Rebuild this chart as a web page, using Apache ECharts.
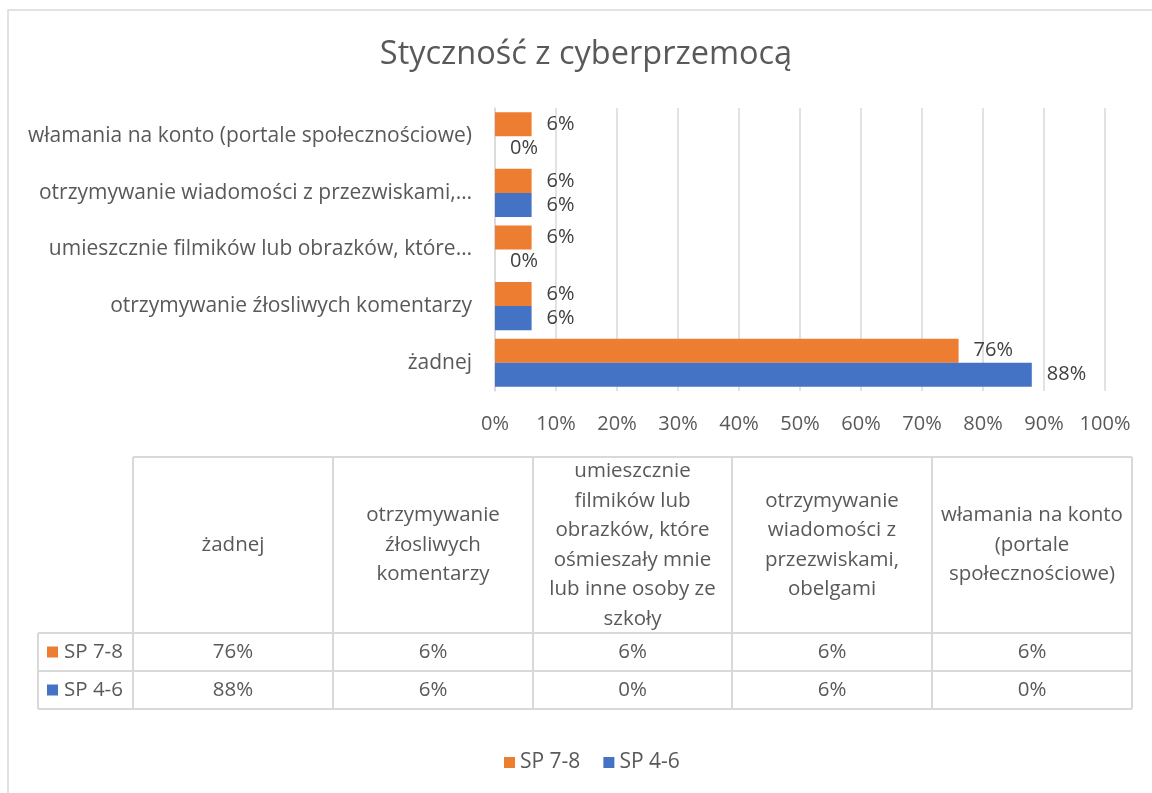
<!DOCTYPE html>
<html>
<head>
<meta charset="utf-8">
<script src="https://cdn.jsdelivr.net/npm/echarts@6/dist/echarts.min.js"></script>
<style>html,body{margin:0;padding:0;background:#fff}#c{width:1152px;height:793px}</style>
</head>
<body>
<div id="c"></div>
<script>
// ---- data ----
const titleText = 'Styczność z cyberprzemocą';
const categories = [
  'żadnej',
  'otrzymywanie źłosliwych komentarzy',
  'umieszcznie filmików lub obrazków, które ośmieszały mnie lub inne osoby ze szkoły',
  'otrzymywanie wiadomości z przezwiskami, obelgami',
  'włamania na konto (portale społecznościowe)'
];
const axisLabels = [
  'żadnej',
  'otrzymywanie źłosliwych komentarzy',
  'umieszcznie filmików lub obrazków, które…',
  'otrzymywanie wiadomości z przezwiskami,…',
  'włamania na konto (portale społecznościowe)'
];
const tableHeaders = [
  'żadnej',
  'otrzymywanie\nźłosliwych\nkomentarzy',
  'umieszcznie\nfilmików lub\nobrazków, które\nośmieszały mnie\nlub inne osoby ze\nszkoły',
  'otrzymywanie\nwiadomości z\nprzezwiskami,\nobelgami',
  'włamania na konto\n(portale\nspołecznościowe)'
];
const seriesNames = ['SP 7-8', 'SP 4-6'];
const sp78 = [76, 6, 6, 6, 6];
const sp46 = [88, 6, 0, 6, 0];
const xTicks = [0, 10, 20, 30, 40, 50, 60, 70, 80, 90, 100];

// ---- styles ----
const colors = ['#ED7D31', '#4472C4'];
const FONT = '"Open Sans", sans-serif';
const txt = '#595959';
const lineC = '#d9d9d9';
const TF = 20.5; // table font size

const chart = echarts.init(document.getElementById('c'), null, {renderer: 'canvas'});

// table geometry
const colX = [133, 333, 533, 732, 932, 1132];
const rowLabelX = 38;
const headTop = 457, headBot = 633, row1Bot = 671, row2Bot = 709;
const rowsY = [[headBot, row1Bot], [row1Bot, row2Bot]];
const seriesData = [sp78, sp46];

const g = [];
// outer border
g.push({type: 'rect', shape: {x: 8, y: 10, width: 1170, height: 800}, style: {fill: 'none', stroke: lineC, lineWidth: 1.5}, silent: true});
function hline(x1, x2, y) { g.push({type: 'line', shape: {x1, y1: y, x2, y2: y}, style: {stroke: lineC, lineWidth: 2}, silent: true}); }
function vline(x, y1, y2) { g.push({type: 'line', shape: {x1: x, y1, x2: x, y2}, style: {stroke: lineC, lineWidth: 2}, silent: true}); }
hline(colX[0], colX[colX.length - 1], headTop);
hline(rowLabelX, colX[colX.length - 1], headBot);
hline(rowLabelX, colX[colX.length - 1], row1Bot);
hline(rowLabelX, colX[colX.length - 1], row2Bot);
vline(rowLabelX, headBot, row2Bot);
colX.forEach(x => vline(x, headTop, row2Bot));
// headers
tableHeaders.forEach((h, i) => {
  g.push({type: 'text', x: (colX[i] + colX[i + 1]) / 2, y: (headTop + headBot) / 2,
    style: {text: h, fill: txt, font: TF + 'px ' + FONT, align: 'center', verticalAlign: 'middle', lineHeight: 29.5}, silent: true});
});
// rows
seriesNames.forEach((name, r) => {
  const yc = (rowsY[r][0] + rowsY[r][1]) / 2;
  g.push({type: 'rect', shape: {x: 47, y: yc - 5.5, width: 11, height: 11}, style: {fill: colors[r]}, silent: true});
  g.push({type: 'text', x: 64, y: yc, style: {text: name, fill: txt, font: TF + 'px ' + FONT, align: 'left', verticalAlign: 'middle'}, silent: true});
  seriesData[r].forEach((v, i) => {
    g.push({type: 'text', x: (colX[i] + colX[i + 1]) / 2, y: yc,
      style: {text: v + '%', fill: txt, font: TF + 'px ' + FONT, align: 'center', verticalAlign: 'middle'}, silent: true});
  });
});

const option = {
  backgroundColor: '#fff',
  animation: false,
  color: colors,
  title: {
    text: titleText, left: 581, textAlign: 'center', top: 33,
    textStyle: {fontFamily: FONT, fontSize: 32.5, fontWeight: 'normal', color: txt}
  },
  legend: {
    data: seriesNames, bottom: 15, left: 499,
    itemWidth: 11, itemHeight: 11, itemGap: 23, itemTextGap: 6, icon: 'rect',
    textStyle: {fontFamily: FONT, fontSize: 21, color: txt}
  },
  grid: {left: 495, right: 47, top: 108, height: 283, containLabel: false},
  xAxis: {
    type: 'value', min: 0, max: 100, interval: 10,
    axisLine: {show: false}, axisTick: {show: false},
    splitLine: {lineStyle: {color: lineC, width: 1.5}},
    axisLabel: {formatter: v => xTicks.includes(v) ? v + '%' : '', fontFamily: FONT, fontSize: 20, color: txt, margin: 23}
  },
  yAxis: {
    type: 'category', data: categories,
    axisLine: {show: true, lineStyle: {color: lineC, width: 1.5}}, axisTick: {show: false},
    axisLabel: {formatter: (v, i) => axisLabels[i], fontFamily: FONT, fontSize: 21, color: txt, margin: 23}
  },
  series: [
    {name: seriesNames[0], type: 'bar', data: sp78, barGap: '0%', barCategoryGap: '15%',
      label: {show: true, position: 'right', distance: 15, formatter: p => p.value + '%', fontFamily: FONT, fontSize: 20, color: '#404040'}},
    {name: seriesNames[1], type: 'bar', data: sp46, barGap: '0%', barCategoryGap: '15%',
      label: {show: true, position: 'right', distance: 15, formatter: p => p.value + '%', fontFamily: FONT, fontSize: 20, color: '#404040'}}
  ],
  graphic: g
};
chart.setOption(option);
</script>
</body>
</html>
